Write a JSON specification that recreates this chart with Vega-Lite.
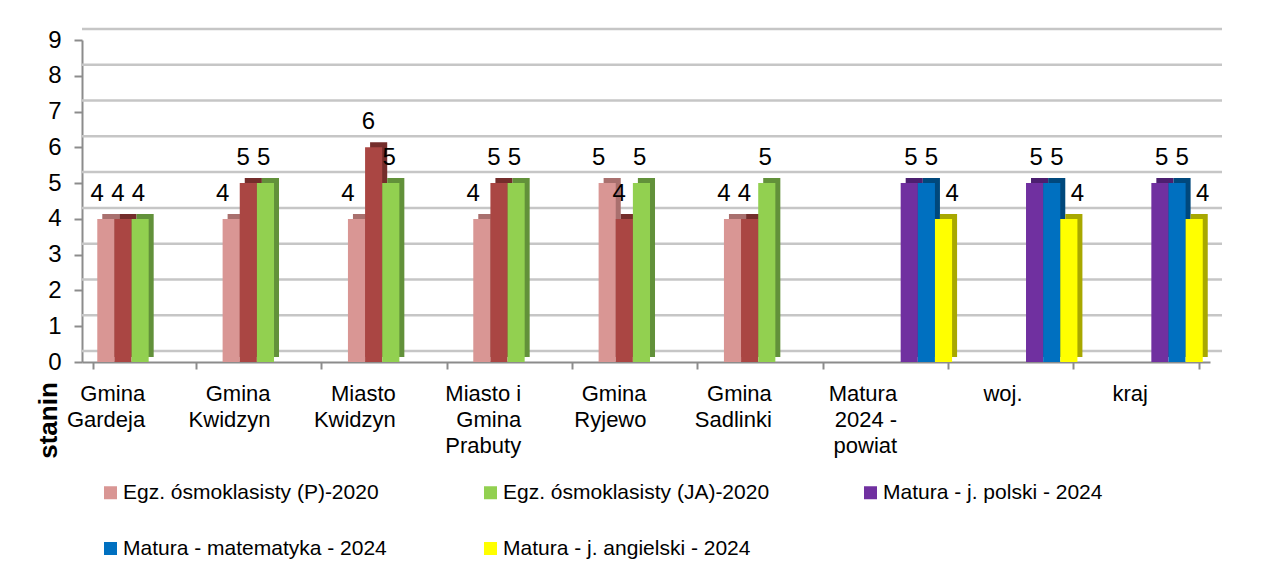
{
  "$schema": "https://vega.github.io/schema/vega-lite/v6.json",
  "autosize": {"type": "none"},
  "width": 1128,
  "height": 322,
  "padding": {"left": 82, "top": 40, "right": 74, "bottom": 222},
  "background": "white",
  "config": {
    "font": "Liberation Sans",
    "view": {"stroke": null},
    "axis": {"labelColor": "#000000", "titleColor": "#000000", "labelFont": "Liberation Sans", "titleFont": "Liberation Sans"},
    "axisY": {"tickCount": 10, "labelOverlap": false},
    "legend": {"labelFont": "Liberation Sans", "labelColor": "#000000"}
  },
  "data": {
    "values": [
      {"jednostka": "Gmina Gardeja", "seria": "Egz. ósmoklasisty (P)-2020", "stanin": 4},
      {"jednostka": "Gmina Gardeja", "seria": "Egz. ósmoklasisty (M)-2020", "stanin": 4},
      {"jednostka": "Gmina Gardeja", "seria": "Egz. ósmoklasisty (JA)-2020", "stanin": 4},
      {"jednostka": "Gmina Kwidzyn", "seria": "Egz. ósmoklasisty (P)-2020", "stanin": 4},
      {"jednostka": "Gmina Kwidzyn", "seria": "Egz. ósmoklasisty (M)-2020", "stanin": 5},
      {"jednostka": "Gmina Kwidzyn", "seria": "Egz. ósmoklasisty (JA)-2020", "stanin": 5},
      {"jednostka": "Miasto Kwidzyn", "seria": "Egz. ósmoklasisty (P)-2020", "stanin": 4},
      {"jednostka": "Miasto Kwidzyn", "seria": "Egz. ósmoklasisty (M)-2020", "stanin": 6},
      {"jednostka": "Miasto Kwidzyn", "seria": "Egz. ósmoklasisty (JA)-2020", "stanin": 5},
      {"jednostka": "Miasto i Gmina Prabuty", "seria": "Egz. ósmoklasisty (P)-2020", "stanin": 4},
      {"jednostka": "Miasto i Gmina Prabuty", "seria": "Egz. ósmoklasisty (M)-2020", "stanin": 5},
      {"jednostka": "Miasto i Gmina Prabuty", "seria": "Egz. ósmoklasisty (JA)-2020", "stanin": 5},
      {"jednostka": "Gmina Ryjewo", "seria": "Egz. ósmoklasisty (P)-2020", "stanin": 5},
      {"jednostka": "Gmina Ryjewo", "seria": "Egz. ósmoklasisty (M)-2020", "stanin": 4},
      {"jednostka": "Gmina Ryjewo", "seria": "Egz. ósmoklasisty (JA)-2020", "stanin": 5},
      {"jednostka": "Gmina Sadlinki", "seria": "Egz. ósmoklasisty (P)-2020", "stanin": 4},
      {"jednostka": "Gmina Sadlinki", "seria": "Egz. ósmoklasisty (M)-2020", "stanin": 4},
      {"jednostka": "Gmina Sadlinki", "seria": "Egz. ósmoklasisty (JA)-2020", "stanin": 5},
      {"jednostka": "Matura 2024 - powiat", "seria": "Matura - j. polski - 2024", "stanin": 5},
      {"jednostka": "Matura 2024 - powiat", "seria": "Matura - matematyka - 2024", "stanin": 5},
      {"jednostka": "Matura 2024 - powiat", "seria": "Matura - j. angielski - 2024", "stanin": 4},
      {"jednostka": "woj.", "seria": "Matura - j. polski - 2024", "stanin": 5},
      {"jednostka": "woj.", "seria": "Matura - matematyka - 2024", "stanin": 5},
      {"jednostka": "woj.", "seria": "Matura - j. angielski - 2024", "stanin": 4},
      {"jednostka": "kraj", "seria": "Matura - j. polski - 2024", "stanin": 5},
      {"jednostka": "kraj", "seria": "Matura - matematyka - 2024", "stanin": 5},
      {"jednostka": "kraj", "seria": "Matura - j. angielski - 2024", "stanin": 4}
    ]
  },
  "encoding": {
    "y": {
      "field": "stanin", "type": "quantitative", "scale": {"domain": [0, 9], "nice": false},
      "axis": {
        "tickCount": 10, "grid": false, "labelFontSize": 24, "labelPadding": 13, "labelOverlap": false,
        "tickSize": 8, "tickColor": "#8c8c8c", "tickWidth": 2, "domainColor": "#8c8c8c", "domainWidth": 2,
        "title": "stanin", "titleFontSize": 26, "titleFontWeight": "bold", "titleAngle": 270,
        "titleAlign": "center", "titleBaseline": "middle", "titleX": -34, "titleY": 380
      }
    }
  },
  "layer": [
    {
      "data": {"values": [{"stanin": 0}, {"stanin": 1}, {"stanin": 2}, {"stanin": 3}, {"stanin": 4}, {"stanin": 5}, {"stanin": 6}, {"stanin": 7}, {"stanin": 8}, {"stanin": 9}]},
      "mark": {"type": "rule", "color": "#c6c6c6", "strokeWidth": 2.5, "yOffset": -11, "xOffset": 12, "x2Offset": 12},
      "encoding": {}
    },
    {
      "mark": {"type": "bar", "yOffset": -5},
      "encoding": {
        "x": {"field": "jednostka", "type": "nominal", "sort": null},
        "xOffset": {"field": "seria", "type": "nominal", "scale": {"domain": ["Egz. ósmoklasisty (P)-2020", "Egz. ósmoklasisty (M)-2020", "Egz. ósmoklasisty (JA)-2020", "Matura - j. polski - 2024", "Matura - matematyka - 2024", "Matura - j. angielski - 2024"], "paddingInner": 0, "paddingOuter": 0, "range": [9, 111.8]}},
        "color": {"field": "seria", "type": "nominal", "legend": null, "scale": {"domain": ["Egz. ósmoklasisty (P)-2020", "Egz. ósmoklasisty (M)-2020", "Egz. ósmoklasisty (JA)-2020", "Matura - j. polski - 2024", "Matura - matematyka - 2024", "Matura - j. angielski - 2024"], "range": ["#A9706E", "#742D2B", "#62913A", "#4C1F70", "#00487C", "#A8A800"]}}
      }
    },
    {
      "mark": {"type": "bar"},
      "encoding": {
        "x": {
          "field": "jednostka", "type": "nominal", "sort": null,
          "scale": {"paddingInner": 0.18, "paddingOuter": 0.09},
          "axis": {
            "title": null, "labelAngle": 0, "labelFontSize": 22, "labelLineHeight": 26, "labelPadding": 14,
            "labelBaseline": "top", "tickBand": "extent", "tickSize": 7, "tickColor": "#8c8c8c", "tickWidth": 2,
            "domainColor": "#8c8c8c", "domainWidth": 2, "grid": false,
            "labelExpr": "!isValid(datum.value) ? '' : datum.value == 'Miasto i Gmina Prabuty' ? ['Miasto i', 'Gmina', 'Prabuty'] : datum.value == 'Matura 2024 - powiat' ? ['Matura', '2024 -', 'powiat'] : split(datum.value, ' ')"
          }
        },
        "xOffset": {"field": "seria", "type": "nominal", "scale": {"domain": ["Egz. ósmoklasisty (P)-2020", "Egz. ósmoklasisty (M)-2020", "Egz. ósmoklasisty (JA)-2020", "Matura - j. polski - 2024", "Matura - matematyka - 2024", "Matura - j. angielski - 2024"], "paddingInner": 0, "paddingOuter": 0, "range": [4, 106.8]}},
        "color": {
          "field": "seria", "type": "nominal",
          "scale": {"domain": ["Egz. ósmoklasisty (P)-2020", "Egz. ósmoklasisty (M)-2020", "Egz. ósmoklasisty (JA)-2020", "Matura - j. polski - 2024", "Matura - matematyka - 2024", "Matura - j. angielski - 2024"], "range": ["#D99694", "#AA4643", "#92D050", "#7030A0", "#0070C0", "#FFFF00"]},
          "legend": {
            "orient": "none", "legendX": 18, "legendY": 442, "columns": 3, "direction": "horizontal", "title": null, "padding": 0,
            "values": ["Egz. ósmoklasisty (P)-2020", "Egz. ósmoklasisty (JA)-2020", "Matura - j. polski - 2024", "Matura - matematyka - 2024", "Matura - j. angielski - 2024"],
            "symbolType": "square", "symbolSize": 169, "symbolStrokeWidth": 0, "labelFontSize": 21, "labelOffset": 2,
            "columnPadding": 90, "rowPadding": 34, "gridAlign": "all", "labelLimit": 400
          }
        }
      }
    },
    {
      "mark": {"type": "text", "baseline": "alphabetic", "dy": -18, "fontSize": 24, "color": "#000000"},
      "encoding": {
        "x": {"field": "jednostka", "type": "nominal", "sort": null},
        "xOffset": {"field": "seria", "type": "nominal", "scale": {"domain": ["Egz. ósmoklasisty (P)-2020", "Egz. ósmoklasisty (M)-2020", "Egz. ósmoklasisty (JA)-2020", "Matura - j. polski - 2024", "Matura - matematyka - 2024", "Matura - j. angielski - 2024"], "paddingInner": 0, "paddingOuter": 0, "range": [4, 106.8]}},
        "text": {"field": "stanin", "type": "quantitative"}
      }
    }
  ],
  "resolve": {"scale": {"color": "independent", "xOffset": "independent"}}
}
